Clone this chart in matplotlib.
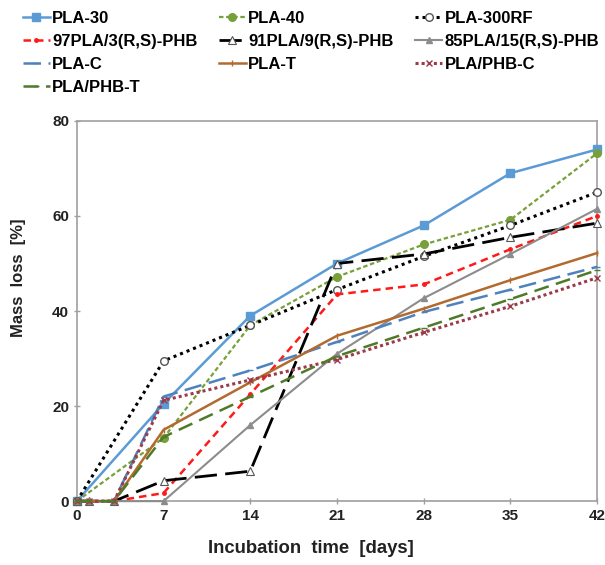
import matplotlib
matplotlib.use("Agg")
import matplotlib.pyplot as plt

plt.rcParams["font.family"] = ["Liberation Sans", "DejaVu Sans"]
plt.rcParams["font.weight"] = "bold"

days_short = [0, 7, 14, 21, 28, 35, 42]
days_long = [0, 1, 3, 7, 14, 21, 28, 35, 42]

pla_30 = [0, 20.5, 39, 50, 58, 69, 74]
pla_40 = [0, 13.3, 37, 47.2, 54, 59.2, 73.2]
pla_300rf = [0, 29.5, 37, 44.5, 51.5, 58, 65]
pla97_phb = [0, 0, 0, 1.7, 22.5, 43.5, 45.6, 53, 60]
pla91_phb = [0, 0, 0, 4.3, 6.3, 50, 52, 55.5, 58.5]
pla85_phb = [0, 0, 0, 0, 16, 31, 42.7, 52, 61.5]
pla_c = [0, 0, 0, 22, 27.5, 33.5, 39.8, 44.5, 49.3]
pla_t = [0, 0, 0, 15, 25, 34.8, 40.5, 46.5, 52.2]
plaphb_c = [0, 0, 0, 21.2, 25.5, 29.8, 35.5, 41, 47]
plaphb_t = [0, 0, 0, 13.5, 22, 30.5, 36.5, 42.5, 48.6]

series = [
    ("PLA-30", days_short, pla_30, dict(color="#5b9bd5", ls="-", lw=1.8, marker="s", ms=6)),
    ("PLA-40", days_short, pla_40, dict(color="#77a03a", ls=(0, (2, 1.2)), lw=1.6, marker="o", ms=5.5)),
    ("PLA-300RF", days_short, pla_300rf, dict(color="black", ls=(0, (1, 1.3)), lw=2.2, marker="o", ms=5.5,
                                               mfc="white", mec="#555555", mew=1)),
    ("97PLA/3(R,S)-PHB", days_long, pla97_phb, dict(color="#ff1a1a", ls=(0, (3, 2)), lw=1.8, marker=".", ms=5)),
    ("91PLA/9(R,S)-PHB", days_long, pla91_phb, dict(color="black", ls=(0, (8, 3)), lw=2.0, marker="^", ms=5.5,
                                                    mfc="white", mec="#555555", mew=0.8)),
    ("85PLA/15(R,S)-PHB", days_long, pla85_phb, dict(color="#8c8c8c", ls="-", lw=1.5, marker="^", ms=5)),
    ("PLA-C", days_long, pla_c, dict(color="#4f81bd", ls=(0, (7, 3)), lw=1.8, marker="_", ms=5)),
    ("PLA-T", days_long, pla_t, dict(color="#b26a2e", ls="-", lw=1.8, marker="|", ms=4)),
    ("PLA/PHB-C", days_long, plaphb_c, dict(color="#9b3b4a", ls=(0, (1, 1)), lw=2.2, marker="x", ms=4)),
    ("PLA/PHB-T", days_long, plaphb_t, dict(color="#4f7a28", ls=(0, (6, 3)), lw=1.8, marker="_", ms=4)),
]

fig = plt.figure(figsize=(6.05, 5.65), dpi=100)
ax = fig.add_axes([0.127, 0.113, 0.86, 0.673])

handles = []
for label, x, y, style in series:
    (line,) = ax.plot(x, y, label=label, clip_on=False, zorder=3, **style)
    handles.append(line)

ax.set_xlim(0, 42)
ax.set_ylim(0, 80)
ax.set_xticks(range(0, 43, 7))
ax.set_yticks(range(0, 81, 20))
for spine in ax.spines.values():
    spine.set_color("#a0a0a0")
    spine.set_linewidth(1.2)
ax.tick_params(axis="both", colors="#a0a0a0", labelcolor="#222222", labelsize=11,
               length=4, width=1, direction="inout")
for lbl in ax.get_xticklabels() + ax.get_yticklabels():
    lbl.set_fontweight("bold")

ax.set_xlabel("Incubation  time  [days]", fontsize=13.3, fontweight="bold", color="#222222")
ax.xaxis.set_label_coords(0.45, -0.124)
ax.xaxis.label.set_va("center")
ax.set_ylabel("Mass  loss  [%]", fontsize=12, fontweight="bold", color="#222222")
ax.yaxis.set_label_coords(-0.113, 0.588)
ax.yaxis.label.set_va("center")

order = [0, 3, 6, 9, 1, 4, 7, 2, 5, 8]
fig.legend(
    [handles[i] for i in order],
    [handles[i].get_label() for i in order],
    ncol=3,
    loc="upper left",
    bbox_to_anchor=(0.013, 1.007),
    frameon=False,
    prop={"weight": "bold", "size": 12},
    handlelength=1.6,
    handletextpad=0.15,
    columnspacing=1.3,
    labelspacing=0.48,
)

fig.savefig("out.png", dpi=100)
